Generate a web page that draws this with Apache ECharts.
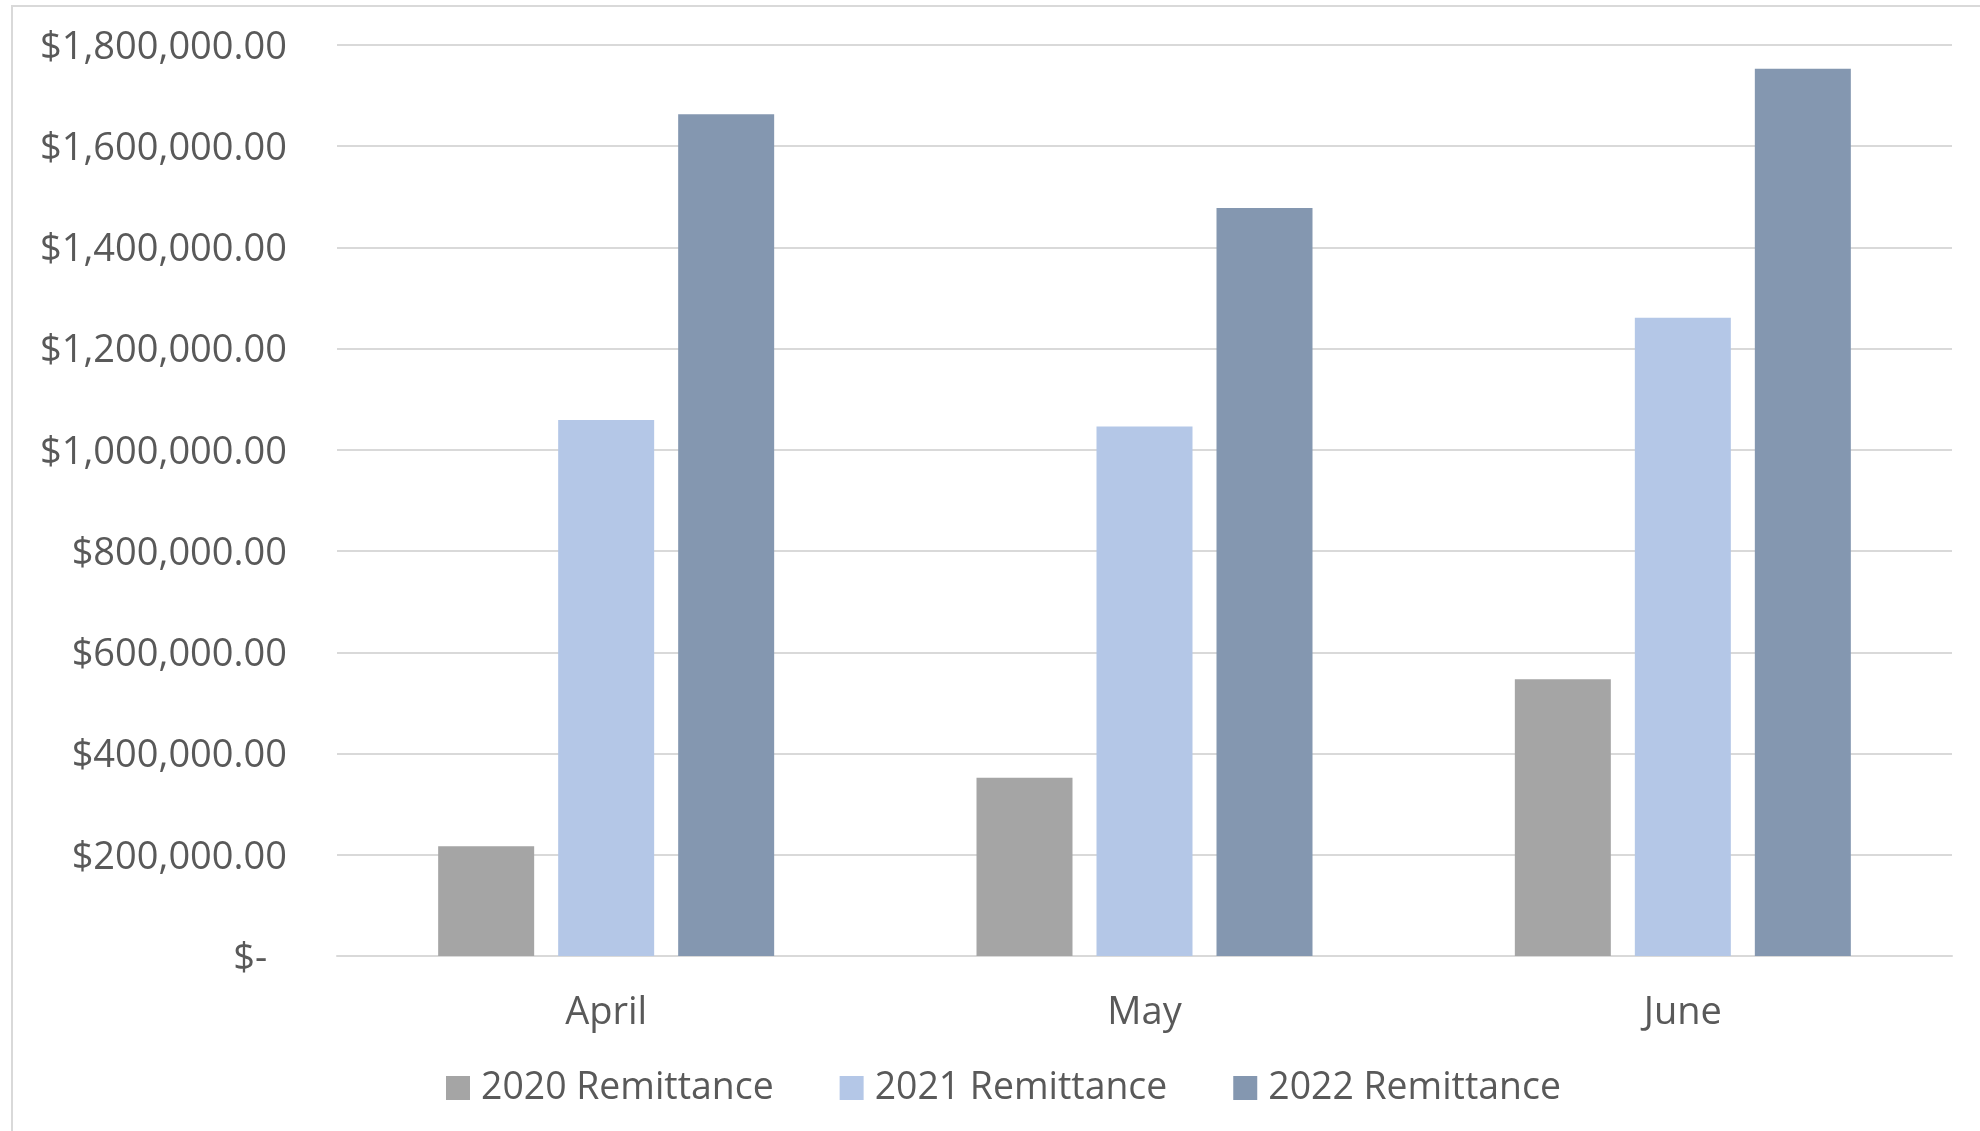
<!DOCTYPE html>
<html>
<head>
<meta charset="utf-8">
<style>
html,body{margin:0;padding:0;background:#fff;}
#chart{width:1980px;height:1131px;}
</style>
<script src="https://cdn.jsdelivr.net/npm/echarts@6/dist/echarts.min.js"></script>
</head>
<body>
<div id="chart"></div>
<script>
const categories = ['April', 'May', 'June'];
const seriesNames = ['2020 Remittance', '2021 Remittance', '2022 Remittance'];
const values2020 = [217000, 352000, 547000];
const values2021 = [1059000, 1046000, 1261000];
const values2022 = [1663000, 1478000, 1753000];
const yTicks = [0, 200000, 400000, 600000, 800000, 1000000, 1200000, 1400000, 1600000, 1800000];

const colors = ['#A5A5A5', '#B4C7E7', '#8497B0'];
const textColor = '#595959';
const font = 'Open Sans';

function fmt(v) {
  if (v === 0) return '{a|$-\u00a0\u00a0}';
  return '{a|$' + v.toLocaleString('en-US', {minimumFractionDigits: 2, maximumFractionDigits: 2}) + '}';
}

const chart = echarts.init(document.getElementById('chart'), null, {renderer: 'canvas'});
const seriesData = [values2020, values2021, values2022];

chart.setOption({
  animation: false,
  backgroundColor: '#fff',
  graphic: [{
    type: 'rect',
    shape: {x: 12, y: 6, width: 2100, height: 1300},
    style: {fill: 'none', stroke: '#D9D9D9', lineWidth: 2},
    silent: true,
    z: -1
  }],
  grid: {left: 337, right: 28, top: 45, bottom: 175, containLabel: false},
  legend: {
    data: seriesNames,
    left: 441,
    top: 1063,
    icon: 'rect',
    itemWidth: 24,
    itemHeight: 24,
    itemGap: 66,
    textStyle: {fontFamily: font, fontSize: 37.4, color: textColor, lineHeight: 40, padding: [0, 0, 0, 6]}
  },
  xAxis: {
    type: 'category',
    data: categories,
    axisTick: {show: false},
    axisLine: {lineStyle: {color: '#D9D9D9', width: 2}},
    axisLabel: {fontFamily: font, fontSize: 38, color: textColor, margin: 38}
  },
  yAxis: {
    type: 'value',
    min: yTicks[0],
    max: yTicks[yTicks.length - 1],
    interval: yTicks[1] - yTicks[0],
    axisLine: {show: false},
    axisTick: {show: false},
    splitLine: {lineStyle: {color: '#D9D9D9', width: 2}},
    axisLabel: {
      fontFamily: font, fontSize: 38, color: textColor, margin: 50, formatter: fmt,
      rich: {a: {fontFamily: font, fontSize: 38, color: textColor, lineHeight: 44, padding: [6, 0, 0, 0]}}
    }
  },
  series: seriesNames.map((name, i) => ({
    name: name,
    type: 'bar',
    data: seriesData[i],
    barWidth: 96,
    barGap: '25%',
    itemStyle: {color: colors[i]}
  }))
});
</script>
</body>
</html>
